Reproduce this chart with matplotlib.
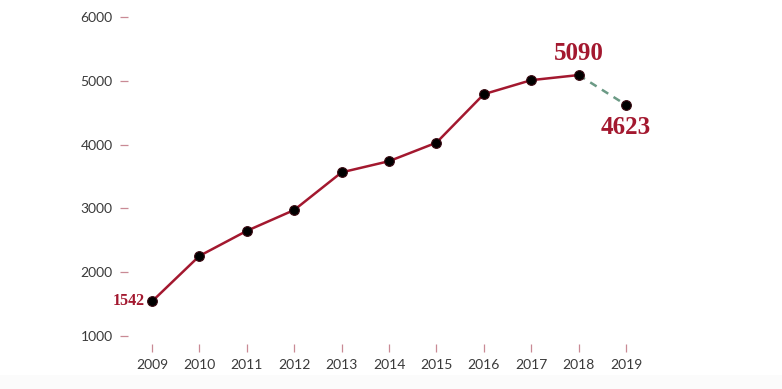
import matplotlib
matplotlib.use("Agg")
import matplotlib.pyplot as plt
from matplotlib.patches import Rectangle

years = [2009, 2010, 2011, 2012, 2013, 2014, 2015, 2016, 2017, 2018, 2019]
values = [1542, 2255, 2648, 2975, 3565, 3740, 4030, 4790, 5010, 5090, 4623]
yticks = [1000, 2000, 3000, 4000, 5000, 6000]

RED = "#A3182F"
GREEN = "#6B9A85"
TICK = "#C98A95"

fig = plt.figure(figsize=(7.82, 3.89), dpi=100)
W, H = 782, 389
fig.patches.append(Rectangle((0, 0), 1, (H - 375) / H, transform=fig.transFigure,
                             facecolor="#fbfbfb", edgecolor="none", zorder=0))
px_year = (626 - 152) / 10
px_val = (336 - 17) / 5000
x_left = 2009 - (152 - 128) / px_year
x_right = 2019.6
y_low = 1000 - (344 - 336) / px_val
y_high = 6000
left_px = 128
bottom_px = 344
ax = fig.add_axes([left_px / W, (H - bottom_px) / H,
                   (x_right - x_left) * px_year / W,
                   (y_high - y_low) * px_val / H])
ax.patch.set_alpha(0)
ax.set_xlim(x_left, x_right)
ax.set_ylim(y_low, y_high)
for s in ax.spines.values():
    s.set_visible(False)

ax.plot(years[:-1], values[:-1], color=RED, lw=1.8, zorder=2, clip_on=False)
ax.plot(years[-2:], values[-2:], color=GREEN, lw=1.8, ls=(0, (3, 2.5)), zorder=2, clip_on=False)
ax.plot(years, values, 'o', color="black", markersize=7, markeredgecolor="#3a0a12",
        markeredgewidth=0.8, zorder=3, clip_on=False)

ax.set_yticks(yticks)
ax.set_yticklabels([str(v) for v in yticks])
ax.set_xticks(years)
ax.set_xticklabels([str(y) for y in years])
ax.tick_params(axis='y', length=6, width=0.9, color=TICK, direction='out', pad=5,
               labelsize=10, labelcolor="#3a3a3a")
ax.tick_params(axis='x', length=6, width=0.9, color=TICK, direction='out', pad=5,
               labelsize=10, labelcolor="#3a3a3a")
for lab in ax.get_xticklabels() + ax.get_yticklabels():
    lab.set_family(["Lato", "DejaVu Sans"])

serif = ["Liberation Serif", "DejaVu Serif"]
ax.annotate(str(values[0]), (years[0], values[0]), xytext=(-5, 0), textcoords="offset points",
            ha="right", va="center", color=RED, fontsize=11.5, fontweight="bold", family=serif)
ax.annotate(str(values[-2]), (years[-2], values[-2]), xytext=(0, 7), textcoords="offset points",
            ha="center", va="bottom", color=RED, fontsize=18, fontweight="bold", family=serif)
ax.annotate(str(values[-1]), (years[-1], values[-1]), xytext=(0, -8), textcoords="offset points",
            ha="center", va="top", color=RED, fontsize=18, fontweight="bold", family=serif)

fig.savefig("out.png", dpi=100, facecolor="white")
